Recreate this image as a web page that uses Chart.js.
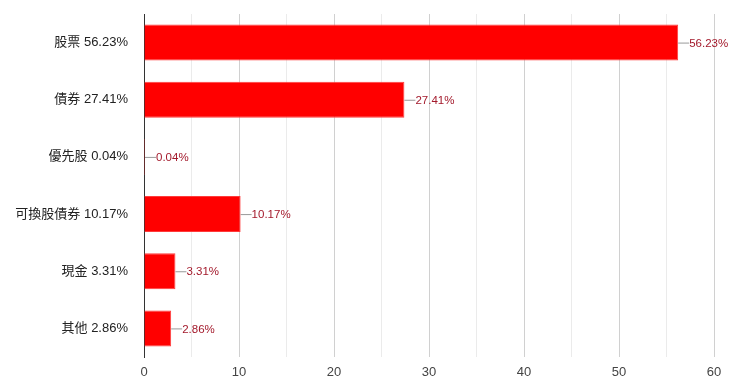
<!DOCTYPE html>
<html>
<head>
<meta charset="utf-8">
<script src="https://cdn.jsdelivr.net/npm/chart.js@4/dist/chart.umd.min.js"></script>
<style>
  html, body { margin: 0; padding: 0; background: #fff; }
  #wrap { width: 740px; height: 386px; }
</style>
</head>
<body>
<div id="wrap"><canvas id="assetChart"></canvas></div>
<script>
const assetNames = ['股票', '債券', '優先股', '可換股債券', '現金', '其他'];
const assetWeights = [56.23, 27.41, 0.04, 10.17, 3.31, 2.86];
const axisTicks = [0, 10, 20, 30, 40, 50, 60];

const FONT = '"Liberation Sans", Arial, "Noto Sans CJK TC", sans-serif';

const categoryLabels = assetNames.map((name, i) => `${name} ${assetWeights[i].toFixed(2)}%`);

// draws "—56.23%" style labels at the end of each bar
const barValueLabels = {
  id: 'barValueLabels',
  afterDatasetsDraw(chart) {
    const ctx = chart.ctx;
    const meta = chart.getDatasetMeta(0);
    ctx.save();
    ctx.font = '11.5px ' + FONT;
    ctx.textBaseline = 'middle';
    meta.data.forEach((bar, i) => {
      const x = bar.x;
      const y = bar.y;
      ctx.strokeStyle = '#999';
      ctx.lineWidth = 1;
      ctx.beginPath();
      ctx.moveTo(x, y + 0.5);
      ctx.lineTo(x + 11, y + 0.5);
      ctx.stroke();
      ctx.fillStyle = '#a3192b';
      ctx.fillText(assetWeights[i].toFixed(2) + '%', x + 11, y + 1);
    });
    ctx.restore();
  }
};

document.addEventListener('DOMContentLoaded', function() {
  const ctx = document.getElementById('assetChart');

  new Chart(ctx.getContext('2d'), {
    type: 'bar',
    data: {
      labels: categoryLabels,
      datasets: [{
        data: assetWeights,
        backgroundColor: '#ff0000',
        borderColor: '#ff3b3b',
        borderWidth: 1,
        borderSkipped: 'left',
        barPercentage: 0.7,
        categoryPercentage: 0.9,
        minBarLength: 1,
      }],
    },
    options: {
      indexAxis: 'y',
      responsive: true,
      maintainAspectRatio: false,
      animation: false,
      layout: {
        padding: { left: 0, right: 26, top: 14, bottom: 0 },
      },
      plugins: {
        legend: { display: false },
        tooltip: { enabled: false },
      },
      scales: {
        x: {
          min: 0,
          max: axisTicks[axisTicks.length - 1],
          ticks: {
            stepSize: 5,
            color: '#444',
            font: { family: FONT, size: 13 },
            padding: 8,
            callback: (v) => axisTicks.includes(v) ? String(v) : '',
          },
          grid: {
            drawTicks: false,
            color: (c) => (c.tick && c.tick.value % 10 === 0) ? '#d0d0d0' : '#ebebeb',
          },
          border: { display: false },
          afterFit: (scale) => { scale.height = 29; },
        },
        y: {
          ticks: {
            color: '#222',
            font: { family: FONT, size: 13 },
            padding: 16,
          },
          grid: { display: false, drawTicks: false },
          border: { display: true, color: '#333', width: 1 },
          afterFit: (scale) => {
            scale.width = 144;
            scale.paddingTop = 0;
            scale.paddingBottom = 0;
          },
        },
      },
    },
    plugins: [barValueLabels],
  });
});
</script>
</body>
</html>
